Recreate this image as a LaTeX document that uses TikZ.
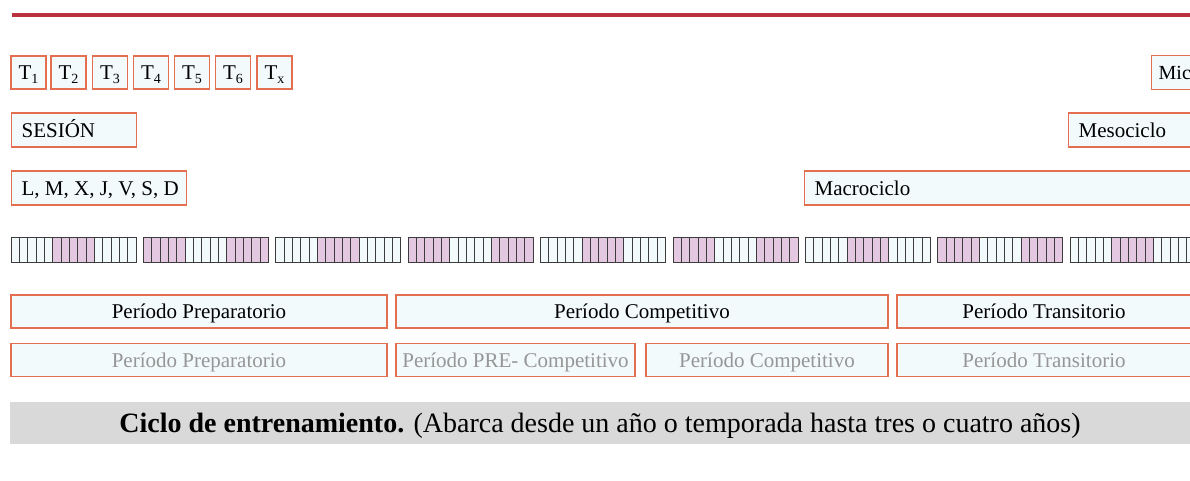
\documentclass[tikz,border=0pt]{standalone}
\usepackage{fontspec}
\setmainfont{Liberation Serif}
\definecolor{boxline}{RGB}{228,110,80}
\definecolor{boxfill}{RGB}{242,250,252}
\definecolor{cellpink}{RGB}{228,200,226}
\definecolor{celledge}{RGB}{60,60,60}
\definecolor{topline}{RGB}{185,50,62}
\definecolor{bandgray}{RGB}{217,217,217}
\definecolor{fadetext}{RGB}{150,150,150}
\newcommand{\tsess}[1]{T\raisebox{-0.45ex}{\fontsize{14}{14}\selectfont #1}}

\begin{document}
\begin{tikzpicture}[x=1pt,y=-1pt,
    cbox/.style={draw=boxline,fill=boxfill,line width=1.3pt,inner sep=0pt,
      text height=14pt,text depth=0pt,font=\fontsize{21}{23}\selectfont},
    tbox/.style={cbox,minimum width=35pt,minimum height=33pt},
    lbox/.style={cbox,anchor=west,minimum height=34pt,inner xsep=10pt},
    pbox/.style={cbox,minimum height=33pt},
    cell/.style={draw=celledge,line width=0.9pt}]
  \clip (0,0) rectangle (1190,480);
  \draw[topline,line width=3.2pt] (12,15) -- (1190,15);
  % sesiones
  \node[tbox] (t1) at (28.5,72.5) {\tsess{1}};
  \node[tbox] (t2) at (68.5,72.5) {\tsess{2}};
  \node[tbox] (t3) at (110,72.5) {\tsess{3}};
  \node[tbox] (t4) at (151,72.5) {\tsess{4}};
  \node[tbox] (t5) at (192,72.5) {\tsess{5}};
  \node[tbox] (t6) at (233,72.5) {\tsess{6}};
  \node[tbox] (tx) at (274.5,72.5) {\tsess{x}};
  \node[lbox,inner xsep=7pt,font=\fontsize{20}{22}\selectfont] (micro) at (1151,72.5)
    {\makebox[36pt][l]{Mic}};
  \node[lbox] (sesion) at (11,130) {\makebox[105pt][l]{SESIÓN}};
  \node[lbox] (meso) at (1068,130) {\makebox[130pt][l]{Mesociclo}};
  \node[lbox] (dias) at (11,188) {\makebox[155pt][l]{L, M, X, J, V, S, D}};
  \node[lbox] (macro) at (804,188) {\makebox[400pt][l]{Macrociclo}};
  % microciclos
  \foreach \s in {0,...,8}{
    \pgfmathsetmacro{\sx}{11+132.4*\s}
    \foreach \b in {0,1,2}{
      \pgfmathtruncatemacro{\pk}{mod(\s+\b,2)}
      \ifnum\pk=1 \fill[cellpink] (\sx+41.667*\b,237) rectangle ++(41.667,25);
      \else \fill[boxfill] (\sx+41.667*\b,237) rectangle ++(41.667,25);
      \fi
    }
    \foreach \c in {0,...,14}
      \draw[cell] (\sx+8.333*\c,237) rectangle ++(8.333,25);
  }
  % periodos
  \node[pbox,minimum width=376pt] (prep) at (199,311.5) {Período Preparatorio};
  \node[pbox,minimum width=492pt] (comp) at (642,311.5) {Período Competitivo};
  \node[pbox,minimum width=294pt] (trans) at (1044,311.5) {Período Transitorio};
  \begin{scope}[every node/.append style={text=fadetext}]
    \node[pbox,minimum width=376pt] (prepb) at (199,360) {Período Preparatorio};
    \node[pbox,minimum width=239pt] (precomp) at (515.5,360) {Período PRE- Competitivo};
    \node[pbox,minimum width=242pt] (compb) at (767,360) {Período Competitivo};
    \node[pbox,minimum width=294pt] (transb) at (1044,360) {Período Transitorio};
  \end{scope}
  \node[fill=bandgray,minimum width=1180pt,minimum height=42pt,inner sep=0pt,
    text height=19pt,text depth=0pt,
    font=\fontsize{28}{30}\selectfont] (ciclo) at (600,423)
    {\textbf{Ciclo de entrenamiento.} (Abarca desde un año o temporada hasta tres o cuatro años)};
\end{tikzpicture}
\end{document}
